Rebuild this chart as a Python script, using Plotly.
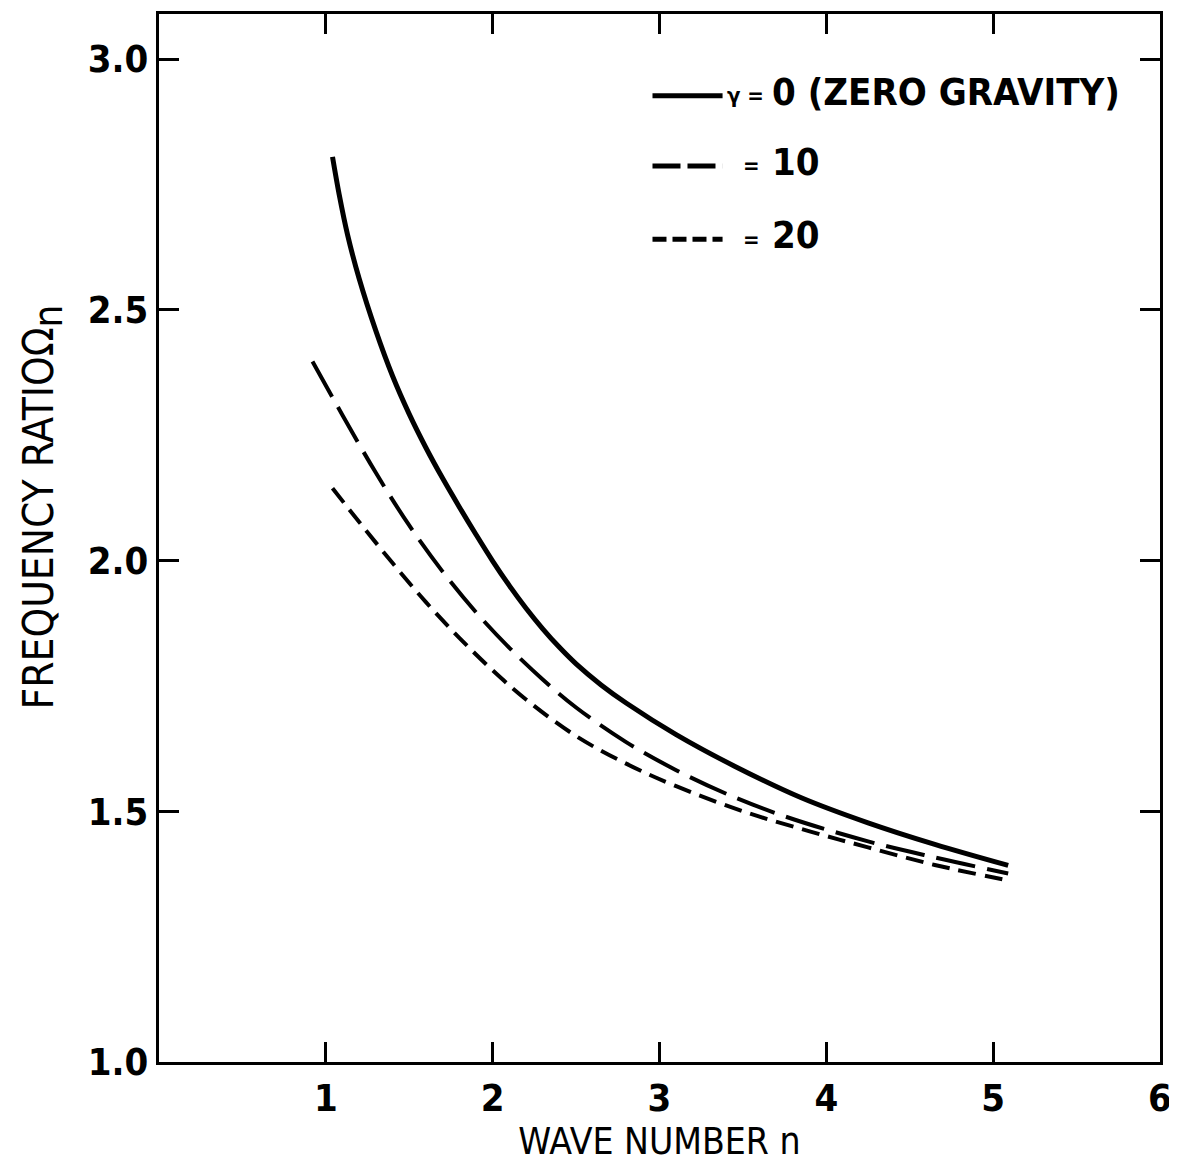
import plotly.graph_objects as go

# gamma = 0 (zero gravity)
x_g0 = [1.04, 1.08, 1.13, 1.2, 1.3, 1.4, 1.5, 1.6, 1.7, 1.8, 1.9, 2.0, 2.1, 2.2, 2.3, 2.4, 2.5, 2.65, 2.8, 3.1, 3.45, 3.85, 4.25, 4.65, 5.09]
y_g0 = [2.805, 2.73, 2.65, 2.562, 2.458, 2.368, 2.292, 2.225, 2.164, 2.107, 2.052, 1.999, 1.95, 1.905, 1.864, 1.827, 1.794, 1.752, 1.716, 1.653, 1.59, 1.527, 1.477, 1.434, 1.392]

# gamma = 10
x_g10 = [0.92, 1.1, 1.3, 1.5, 1.7, 1.9, 2.1, 2.3, 2.5, 2.8, 3.1, 3.4, 3.75, 4.25, 4.65, 5.09]
y_g10 = [2.397, 2.29, 2.175, 2.07, 1.978, 1.897, 1.826, 1.763, 1.707, 1.638, 1.582, 1.535, 1.49, 1.44, 1.408, 1.376]

# gamma = 20
x_g20 = [1.04, 1.2, 1.4, 1.6, 1.8, 2.0, 2.2, 2.5, 2.8, 3.1, 3.5, 3.9, 4.25, 4.65, 5.09]
y_g20 = [2.144, 2.077, 1.995, 1.917, 1.846, 1.781, 1.723, 1.65, 1.595, 1.55, 1.50, 1.46, 1.428, 1.393, 1.362]

legend_prefix = ["γ =", "=", "="]
legend_values = ["0 (ZERO GRAVITY)", "10", "20"]
x_ticks = [1, 2, 3, 4, 5, 6]
y_ticks = [1.0, 1.5, 2.0, 2.5, 3.0]
y_ticktext = ["1.0", "1.5", "2.0", "2.5", "3.0"]
x_title = "WAVE NUMBER n"
y_title = "FREQUENCY RATIOΩ<sub><span style='font-size:40px'>n</span></sub>"

FONT = "DejaVu Sans Condensed, Liberation Sans Narrow, Arial Narrow, sans-serif"
DASH_LONG = "40px,12px"
DASH_SHORT = "18px,9px"

fig = go.Figure()
fig.add_trace(go.Scatter(x=x_g0, y=y_g0, mode="lines", name="γ = 0",
                         line=dict(color="black", width=5, shape="spline")))
fig.add_trace(go.Scatter(x=x_g10, y=y_g10, mode="lines", name="γ = 10",
                         line=dict(color="black", width=4, shape="spline", dash=DASH_LONG)))
fig.add_trace(go.Scatter(x=x_g20, y=y_g20, mode="lines", name="γ = 20",
                         line=dict(color="black", width=4, shape="spline", dash=DASH_SHORT)))

axis_common = dict(
    showline=True, linecolor="black", linewidth=3, mirror="allticks",
    ticks="inside", ticklen=20, tickwidth=3, tickcolor="black",
    showgrid=False, zeroline=False,
    tickfont=dict(family=FONT, size=38, color="black", weight="bold"),
)

fig.update_xaxes(range=[0.0, 6.0], tickvals=x_ticks, ticktext=[str(v) for v in x_ticks],
                 title=dict(text=x_title, font=dict(family=FONT, size=37, color="black"), standoff=8),
                 **axis_common)
fig.update_yaxes(range=[1.0, 3.09], tickvals=y_ticks, ticktext=y_ticktext, **axis_common)

# y-axis title placed as rotated annotation (to match the reference position)
fig.add_annotation(xref="paper", yref="paper", x=-0.116, y=0.53, text=y_title,
                   textangle=-90, showarrow=False, xanchor="center", yanchor="middle",
                   font=dict(family=FONT, size=42, color="black"))

# manual legend (paper coordinates)
rows_y = [0.922, 0.855, 0.785]
dashes = ["solid", "28px,7px", "14px,6px"]
widths = [5, 5, 5]
for i in range(3):
    fig.add_shape(type="line", xref="paper", yref="paper",
                  x0=0.493, x1=0.563, y0=rows_y[i], y1=rows_y[i],
                  line=dict(color="black", width=widths[i], dash=dashes[i]))
    fig.add_annotation(xref="paper", yref="paper", x=0.606 if i == 0 else 0.602, y=rows_y[i],
                       text=legend_prefix[i], showarrow=False, xanchor="right", yanchor="middle",
                       font=dict(family=FONT, size=22, color="black", weight="bold"))
    fig.add_annotation(xref="paper", yref="paper", x=0.61, y=rows_y[i] + 0.004,
                       text=legend_values[i], showarrow=False, xanchor="left", yanchor="middle",
                       font=dict(family=FONT, size=38, color="black", weight="bold"))

fig.update_layout(
    width=1169, height=1157,
    margin=dict(l=151, r=17, t=3, b=103),
    plot_bgcolor="white", paper_bgcolor="white",
    font=dict(family=FONT, size=36, color="black"),
    showlegend=False,
)

fig.write_html("out.html")
